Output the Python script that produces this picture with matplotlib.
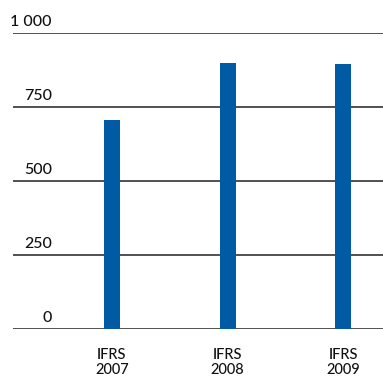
import numpy as np
import matplotlib
matplotlib.use("Agg")
import matplotlib.pyplot as plt
import matplotlib.transforms as mtransforms

plt.rcParams.update({
    "font.family": ["Lato", "DejaVu Sans"],
    "font.size": 10.5,
})

# ---------------------------
# Data
# ---------------------------
CATEGORIES = ["IFRS\n2007", "IFRS\n2008", "IFRS\n2009"]
VALUES = [706, 899, 895]
GRID_VALUES = [0, 250, 500, 750, 1000]
GRID_LABELS = ["0", "250", "500", "750", "1 000"]

BAR_COLOR = "#005BA4"
GRID_COLOR = "#333333"
TEXT_COLOR = "#111111"

fig = plt.figure(figsize=(3.83, 3.80), dpi=100)
ax = fig.add_axes([13 / 383, 51 / 380, 370 / 383, 296 / 380])

x = np.arange(len(CATEGORIES))
ax.bar(x, VALUES, width=0.1385, color=BAR_COLOR, edgecolor="none", zorder=3)

for v in GRID_VALUES:
    ax.axhline(v, color=GRID_COLOR, linewidth=1.2, zorder=2)

ax.set_xlim(-0.857, 2.346)
ax.set_ylim(0, 1000)

# y labels sit above gridlines, right-aligned
trans = mtransforms.blended_transform_factory(ax.transAxes, ax.transData)
offset = mtransforms.offset_copy(trans, fig=fig, x=0, y=3, units="points")
for v, lab in zip(GRID_VALUES, GRID_LABELS):
    ax.text(0.105, v, lab, transform=offset, ha="right", va="bottom",
            fontsize=11.5, fontweight="medium", color=TEXT_COLOR)

# category labels below the axis
trans_x = mtransforms.blended_transform_factory(ax.transData, ax.transAxes)
for xi, lab in zip(x, CATEGORIES):
    ax.text(xi, -0.065, lab, transform=trans_x, ha="center", va="top",
            fontsize=10.5, fontweight="medium", color=TEXT_COLOR,
            linespacing=1.1)

ax.set_xticks([])
ax.set_yticks([])
for s in ax.spines.values():
    s.set_visible(False)

fig.savefig("out.png", dpi=100)
